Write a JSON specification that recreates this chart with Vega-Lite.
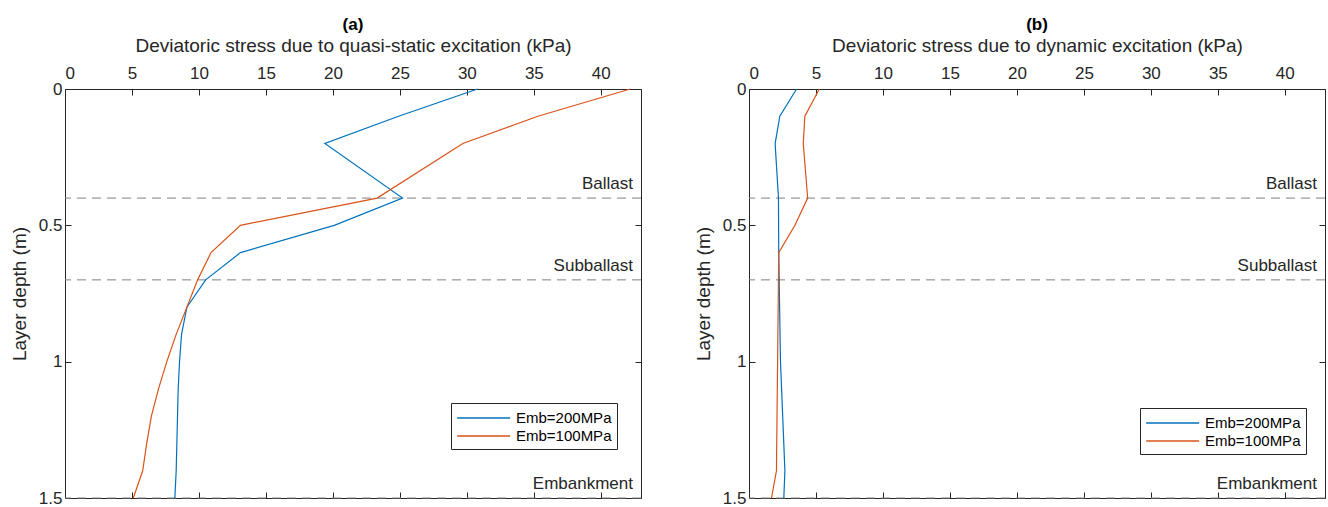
{
  "$schema": "https://vega.github.io/schema/vega-lite/v6.json",
  "padding": {"left": 10, "top": 16, "right": 0, "bottom": 0},
  "background": "white",
  "bounds": "flush",
  "spacing": 108,
  "config": {
    "view": {"stroke": null},
    "font": "Liberation Sans",
    "axis": {
      "grid": false,
      "domainColor": "#262626",
      "domainWidth": 1,
      "tickColor": "#262626",
      "tickWidth": 1,
      "tickSize": -6,
      "labelColor": "#262626",
      "titleColor": "#262626",
      "labelFont": "Liberation Sans",
      "titleFont": "Liberation Sans",
      "labelFontSize": 17,
      "titleFontSize": 19,
      "titleFontWeight": "normal"
    },
    "title": {"font": "Liberation Sans", "fontSize": 17, "fontWeight": "bold", "color": "#000000", "frame": "group", "anchor": "middle", "offset": 2}
  },
  "datasets": {
    "layers": [
      {"layer": "Ballast", "depth": 0.4},
      {"layer": "Subballast", "depth": 0.7},
      {"layer": "Embankment", "depth": 1.5}
    ],
    "quasi": [
      {"series": "Emb=200MPa", "depth": 0.0, "stress": 30.8},
      {"series": "Emb=200MPa", "depth": 0.1, "stress": 24.9},
      {"series": "Emb=200MPa", "depth": 0.2, "stress": 19.4},
      {"series": "Emb=200MPa", "depth": 0.4, "stress": 25.2},
      {"series": "Emb=200MPa", "depth": 0.5, "stress": 20.1},
      {"series": "Emb=200MPa", "depth": 0.6, "stress": 13.1},
      {"series": "Emb=200MPa", "depth": 0.7, "stress": 10.5},
      {"series": "Emb=200MPa", "depth": 0.8, "stress": 9.1},
      {"series": "Emb=200MPa", "depth": 0.9, "stress": 8.7},
      {"series": "Emb=200MPa", "depth": 1.0, "stress": 8.55},
      {"series": "Emb=200MPa", "depth": 1.1, "stress": 8.45},
      {"series": "Emb=200MPa", "depth": 1.2, "stress": 8.4},
      {"series": "Emb=200MPa", "depth": 1.3, "stress": 8.35},
      {"series": "Emb=200MPa", "depth": 1.4, "stress": 8.3},
      {"series": "Emb=200MPa", "depth": 1.5, "stress": 8.2},
      {"series": "Emb=100MPa", "depth": 0.0, "stress": 42.2},
      {"series": "Emb=100MPa", "depth": 0.1, "stress": 35.3},
      {"series": "Emb=100MPa", "depth": 0.2, "stress": 29.7},
      {"series": "Emb=100MPa", "depth": 0.4, "stress": 23.3},
      {"series": "Emb=100MPa", "depth": 0.5, "stress": 13.1},
      {"series": "Emb=100MPa", "depth": 0.6, "stress": 10.9},
      {"series": "Emb=100MPa", "depth": 0.7, "stress": 9.9},
      {"series": "Emb=100MPa", "depth": 0.8, "stress": 9.1},
      {"series": "Emb=100MPa", "depth": 0.9, "stress": 8.3},
      {"series": "Emb=100MPa", "depth": 1.0, "stress": 7.6},
      {"series": "Emb=100MPa", "depth": 1.1, "stress": 6.98},
      {"series": "Emb=100MPa", "depth": 1.2, "stress": 6.45},
      {"series": "Emb=100MPa", "depth": 1.3, "stress": 6.1},
      {"series": "Emb=100MPa", "depth": 1.4, "stress": 5.8},
      {"series": "Emb=100MPa", "depth": 1.5, "stress": 5.1}
    ],
    "dyn": [
      {"series": "Emb=200MPa", "depth": 0.0, "stress": 3.55},
      {"series": "Emb=200MPa", "depth": 0.1, "stress": 2.3},
      {"series": "Emb=200MPa", "depth": 0.2, "stress": 1.95},
      {"series": "Emb=200MPa", "depth": 0.4, "stress": 2.2},
      {"series": "Emb=200MPa", "depth": 0.6, "stress": 2.22},
      {"series": "Emb=200MPa", "depth": 1.0, "stress": 2.35},
      {"series": "Emb=200MPa", "depth": 1.4, "stress": 2.68},
      {"series": "Emb=200MPa", "depth": 1.5, "stress": 2.6},
      {"series": "Emb=100MPa", "depth": 0.0, "stress": 5.25},
      {"series": "Emb=100MPa", "depth": 0.1, "stress": 4.17},
      {"series": "Emb=100MPa", "depth": 0.2, "stress": 4.05},
      {"series": "Emb=100MPa", "depth": 0.4, "stress": 4.38},
      {"series": "Emb=100MPa", "depth": 0.5, "stress": 3.43},
      {"series": "Emb=100MPa", "depth": 0.6, "stress": 2.22},
      {"series": "Emb=100MPa", "depth": 1.4, "stress": 2.05},
      {"series": "Emb=100MPa", "depth": 1.5, "stress": 1.68}
    ]
  },
  "resolve": {"scale": {"color": "independent"}, "legend": {"color": "independent"}},
  "hconcat": [
    {
      "width": 576,
      "height": 409,
      "title": {"text": "(a)"},
      "resolve": {"axis": {"x": "independent", "y": "independent"}},
      "layer": [
        {
          "data": {"name": "layers"},
          "mark": {"type": "rule", "stroke": "#808080", "strokeWidth": 1, "strokeDash": [9, 6]},
          "encoding": {
            "y": {"field": "depth", "type": "quantitative", "scale": {"domain": [0, 1.5], "reverse": true, "nice": false, "zero": false}, "axis": null}
          }
        },
        {
          "data": {"name": "layers"},
          "mark": {"type": "text", "align": "right", "baseline": "alphabetic", "dx": -8, "dy": -9, "fontSize": 17, "font": "Liberation Sans", "color": "#262626"},
          "encoding": {
            "x": {"value": "width"},
            "y": {"field": "depth", "type": "quantitative", "scale": {"domain": [0, 1.5], "reverse": true, "nice": false, "zero": false}, "axis": null},
            "text": {"field": "layer", "type": "nominal"}
          }
        },
        {
          "data": {"name": "quasi"},
          "mark": {"type": "line", "strokeWidth": 1.2},
          "encoding": {
            "x": {"field": "stress", "type": "quantitative", "scale": {"domain": [0, 43], "nice": false, "zero": false},
                  "axis": {"orient": "top", "title": "Deviatoric stress due to quasi-static excitation (kPa)", "values": [0, 5, 10, 15, 20, 25, 30, 35, 40], "labelPadding": 13, "titlePadding": 9}},
            "y": {"field": "depth", "type": "quantitative", "scale": {"domain": [0, 1.5], "reverse": true, "nice": false, "zero": false},
                  "axis": {"orient": "left", "title": "Layer depth (m)", "values": [0, 0.5, 1, 1.5], "format": "~g", "labelPadding": 9, "titlePadding": 9}},
            "color": {"field": "series", "type": "nominal",
                      "scale": {"domain": ["Emb=200MPa", "Emb=100MPa"], "range": ["#0072BD", "#D95319"]},
                      "legend": {"orient": "none", "legendX": 386, "legendY": 314, "title": null, "symbolType": "M-1,0H5", "symbolSize": 312, "symbolStrokeWidth": 1.5,
                                 "labelFont": "Liberation Sans", "labelFontSize": 15, "labelColor": "#000000", "labelLimit": 0, "labelOffset": 40,
                                 "strokeColor": "#262626", "fillColor": "#ffffff", "padding": 5, "rowPadding": 0, "cornerRadius": 0}},
            "order": {"field": "depth", "type": "quantitative"}
          }
        },
        {
          "data": {"name": "quasi"},
          "mark": {"type": "point", "opacity": 0},
          "encoding": {
            "x": {"field": "stress", "type": "quantitative", "scale": {"domain": [0, 43], "nice": false, "zero": false},
                  "axis": {"orient": "bottom", "title": null, "labels": false, "values": [0, 5, 10, 15, 20, 25, 30, 35, 40]}},
            "y": {"field": "depth", "type": "quantitative", "scale": {"domain": [0, 1.5], "reverse": true, "nice": false, "zero": false},
                  "axis": {"orient": "right", "title": null, "labels": false, "values": [0, 0.5, 1, 1.5]}}
          }
        }
      ]
    },
    {
      "width": 576,
      "height": 409,
      "title": {"text": "(b)"},
      "resolve": {"axis": {"x": "independent", "y": "independent"}},
      "layer": [
        {
          "data": {"name": "layers"},
          "mark": {"type": "rule", "stroke": "#808080", "strokeWidth": 1, "strokeDash": [9, 6]},
          "encoding": {
            "y": {"field": "depth", "type": "quantitative", "scale": {"domain": [0, 1.5], "reverse": true, "nice": false, "zero": false}, "axis": null}
          }
        },
        {
          "data": {"name": "layers"},
          "mark": {"type": "text", "align": "right", "baseline": "alphabetic", "dx": -8, "dy": -9, "fontSize": 17, "font": "Liberation Sans", "color": "#262626"},
          "encoding": {
            "x": {"value": "width"},
            "y": {"field": "depth", "type": "quantitative", "scale": {"domain": [0, 1.5], "reverse": true, "nice": false, "zero": false}, "axis": null},
            "text": {"field": "layer", "type": "nominal"}
          }
        },
        {
          "data": {"name": "dyn"},
          "mark": {"type": "line", "strokeWidth": 1.2},
          "encoding": {
            "x": {"field": "stress", "type": "quantitative", "scale": {"domain": [0, 43], "nice": false, "zero": false},
                  "axis": {"orient": "top", "title": "Deviatoric stress due to dynamic excitation (kPa)", "values": [0, 5, 10, 15, 20, 25, 30, 35, 40], "labelPadding": 13, "titlePadding": 9}},
            "y": {"field": "depth", "type": "quantitative", "scale": {"domain": [0, 1.5], "reverse": true, "nice": false, "zero": false},
                  "axis": {"orient": "left", "title": "Layer depth (m)", "values": [0, 0.5, 1, 1.5], "format": "~g", "labelPadding": 9, "titlePadding": 9}},
            "color": {"field": "series", "type": "nominal",
                      "scale": {"domain": ["Emb=200MPa", "Emb=100MPa"], "range": ["#0072BD", "#D95319"]},
                      "legend": {"orient": "none", "legendX": 391, "legendY": 319, "title": null, "symbolType": "M-1,0H5", "symbolSize": 312, "symbolStrokeWidth": 1.5,
                                 "labelFont": "Liberation Sans", "labelFontSize": 15, "labelColor": "#000000", "labelLimit": 0, "labelOffset": 40,
                                 "strokeColor": "#262626", "fillColor": "#ffffff", "padding": 5, "rowPadding": 0, "cornerRadius": 0}},
            "order": {"field": "depth", "type": "quantitative"}
          }
        },
        {
          "data": {"name": "dyn"},
          "mark": {"type": "point", "opacity": 0},
          "encoding": {
            "x": {"field": "stress", "type": "quantitative", "scale": {"domain": [0, 43], "nice": false, "zero": false},
                  "axis": {"orient": "bottom", "title": null, "labels": false, "values": [0, 5, 10, 15, 20, 25, 30, 35, 40]}},
            "y": {"field": "depth", "type": "quantitative", "scale": {"domain": [0, 1.5], "reverse": true, "nice": false, "zero": false},
                  "axis": {"orient": "right", "title": null, "labels": false, "values": [0, 0.5, 1, 1.5]}}
          }
        }
      ]
    }
  ]
}
